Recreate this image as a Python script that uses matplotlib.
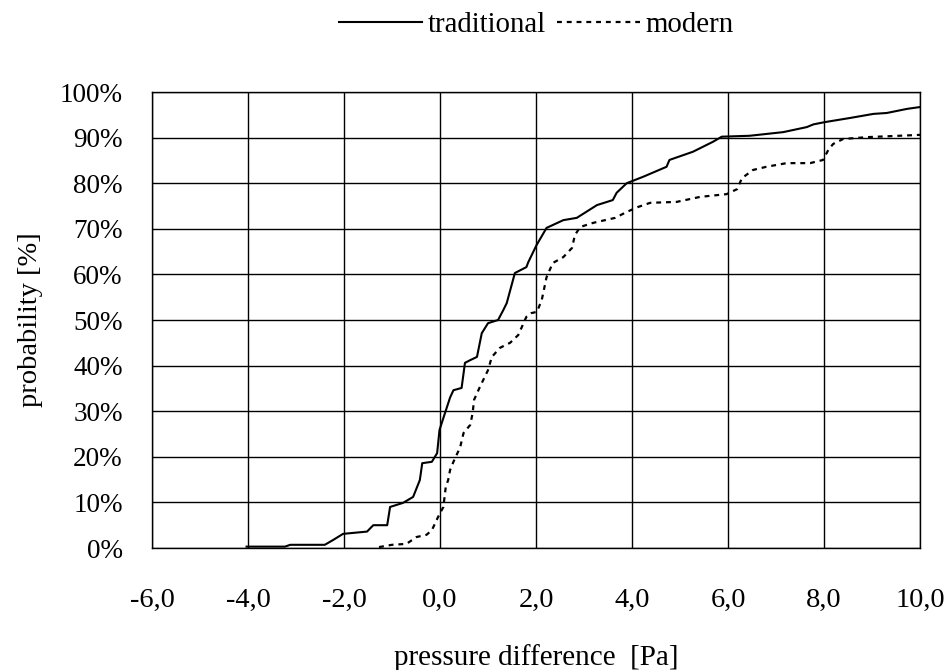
import matplotlib.pyplot as plt
import matplotlib.ticker as mticker

# traditional curve (pressure difference [Pa], probability [%])
trad_x = [-4.03, -3.23, -3.12, -2.4, -2.22, -2.02, -1.52, -1.39, -1.1, -1.04, -0.77, -0.56,
          -0.42, -0.37, -0.17, -0.06, -0.01, 0.07, 0.21, 0.28, 0.45, 0.52, 0.63, 0.77, 0.87,
          1.0, 1.21, 1.32, 1.39, 1.56, 1.8, 1.84, 2.01, 2.22, 2.57, 2.85, 3.27, 3.6, 3.68,
          3.89, 4.23, 4.72, 4.78, 5.27, 5.69, 5.87, 6.45, 7.15, 7.64, 7.78, 8.02, 8.54, 9.03,
          9.31, 9.73, 10.0]
trad_y = [0.3, 0.3, 0.7, 0.7, 1.8, 3.1, 3.6, 5.0, 5.0, 9.0, 9.9, 11.2,
          14.9, 18.6, 18.9, 20.8, 25.9, 28.5, 33.0, 34.6, 35.1, 40.6, 41.2, 41.9, 47.1,
          49.3, 50.0, 52.2, 53.7, 60.3, 61.6, 62.7, 66.4, 70.2, 71.9, 72.4, 75.2, 76.3, 77.9,
          80.0, 81.4, 83.6, 85.1, 86.9, 89.1, 90.2, 90.4, 91.2, 92.3, 92.9, 93.4, 94.3, 95.2,
          95.4, 96.3, 96.7]

# modern curve
mod_x = [-1.27, -1.0, -0.7, -0.49, -0.28, -0.17, -0.04, 0.07, 0.12, 0.17, 0.21, 0.28,
         0.42, 0.49, 0.63, 0.68, 0.71, 0.83, 1.0, 1.08, 1.25, 1.46, 1.63, 1.8, 1.9, 2.02,
         2.12, 2.22, 2.35, 2.57, 2.75, 2.81, 2.92, 3.19, 3.65, 3.89, 4.13, 4.38, 4.93, 5.42,
         5.97, 6.19, 6.29, 6.52, 6.8, 7.22, 7.71, 7.98, 8.09, 8.19, 8.4, 8.9, 10.0]
mod_y = [0.2, 0.7, 0.9, 2.4, 2.9, 3.9, 6.8, 9.0, 13.4, 14.9, 17.1, 18.9,
         22.1, 25.2, 27.0, 29.6, 32.5, 35.3, 39.0, 41.9, 43.9, 45.0, 46.7, 50.7, 51.5, 51.8,
         54.4, 59.4, 62.5, 63.8, 65.8, 68.6, 70.4, 71.3, 72.4, 73.7, 74.8, 75.7, 75.9, 77.0,
         77.6, 78.7, 81.1, 82.9, 83.6, 84.4, 84.4, 85.1, 87.3, 88.6, 89.7, 90.1, 90.6]

plt.rcParams['font.family'] = ['Liberation Serif', 'DejaVu Serif']

fig = plt.figure(figsize=(9.48, 6.70), dpi=100)
ax = fig.add_axes([152/948, 1-548/670, 768/948, 456/670])

ax.plot(trad_x, trad_y, color='black', lw=1.5, label='traditional')
ax.plot(mod_x, mod_y, color='black', lw=1.6, linestyle=(0, (2.2, 2.2)), label='modern')

ax.set_xlim(-6, 10)
ax.set_ylim(0, 100)
ax.set_xticks(range(-6, 11, 2))
ax.set_yticks(range(0, 101, 10))
ax.xaxis.set_major_formatter(mticker.FuncFormatter(lambda v, p: f'{v:.1f}'.replace('.', ',')))
ax.yaxis.set_major_formatter(mticker.FuncFormatter(lambda v, p: f'{v:.0f}%'))
ax.tick_params(axis='both', length=0)
ax.tick_params(axis='x', pad=29, labelsize=20.5)
ax.tick_params(axis='y', pad=21, labelsize=19.5)
ax.grid(True, color='black', lw=1.0)
for s in ax.spines.values():
    s.set_color('black')
    s.set_linewidth(1.0)

ax.set_xlabel('pressure difference  [Pa]', fontsize=21, labelpad=22)
ax.set_ylabel('probability [%]', fontsize=20.5, labelpad=12)

fig.legend(loc='upper center', bbox_to_anchor=(0.566, 1.021), ncol=2, frameon=False,
           fontsize=20.8, handlelength=2.85, handletextpad=0.2, columnspacing=0.4)

fig.savefig('out.png', dpi=100)
